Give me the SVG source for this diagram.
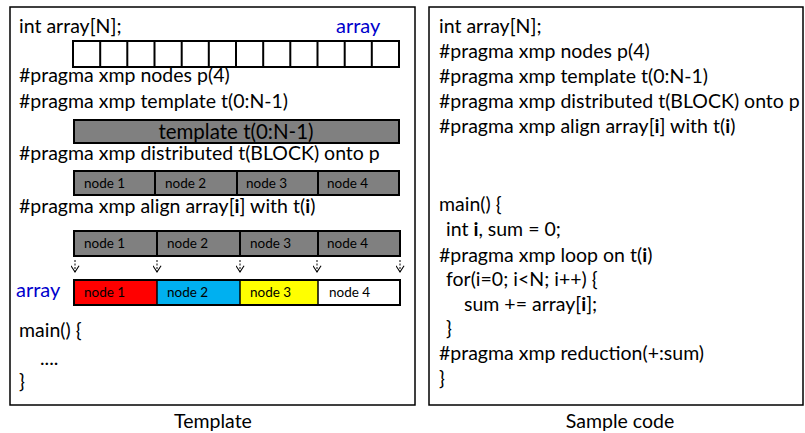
<svg xmlns="http://www.w3.org/2000/svg" width="805" height="433" viewBox="0 0 805 433">
<style>
.t{font-family:Lato,"Open Sans","Liberation Sans",sans-serif;font-size:19.5px;fill:#000}
.b{fill:#0000cc;font-size:20px}
.n{font-family:Lato,"Open Sans","Liberation Sans",sans-serif;font-size:13.5px;fill:#000}
.box{fill:#fff;stroke:#000;stroke-width:1.5}
.cell{fill:#fff;stroke:#000;stroke-width:2}
.gr{fill:#808080;stroke:#000;stroke-width:2}
.con{stroke:#000;stroke-width:1;stroke-dasharray:2,1.5;fill:none}
.bi{font-weight:bold}
</style>
<defs>
<marker id="ah" viewBox="0 0 10 10" refX="9" refY="5" markerWidth="9" markerHeight="9" markerUnits="userSpaceOnUse" orient="auto">
<path d="M2,0.5 L9,5 L2,9.5" fill="none" stroke="#000" stroke-width="1.2"/>
</marker>
</defs>
<g id="template-panel">
<rect class="box" x="10" y="7" width="405" height="398"/>
<text class="t" x="19" y="33">int array[N];</text>
<text class="t b" x="336" y="33">array</text>
<g id="array-cells">
<rect class="cell" x="73" y="41" width="326" height="26"/>
<path d="M100.2,41V67M127.3,41V67M154.5,41V67M181.7,41V67M208.8,41V67M236,41V67M263.2,41V67M290.3,41V67M317.5,41V67M344.7,41V67M371.8,41V67" stroke="#000" stroke-width="2"/>
</g>
<text class="t" x="19" y="82">#pragma xmp nodes p(4)</text>
<text class="t" x="19" y="108">#pragma xmp template t(0:N-1)</text>
<g id="template-bar">
<rect class="gr" x="74" y="120" width="325" height="23"/>
<text class="t" x="236" y="139" text-anchor="middle" style="font-size:20.5px">template t(0:N-1)</text>
</g>
<text class="t" x="19" y="160">#pragma xmp distributed t(BLOCK) onto p</text>
<g id="nodes-dist">
<rect class="gr" x="74" y="171" width="81" height="24"/>
<rect class="gr" x="155" y="171" width="82" height="24"/>
<rect class="gr" x="237" y="171" width="81" height="24"/>
<rect class="gr" x="318" y="171" width="81" height="24"/>
<text class="n" x="84" y="188">node 1</text>
<text class="n" x="165" y="188">node 2</text>
<text class="n" x="246" y="188">node 3</text>
<text class="n" x="327" y="188">node 4</text>
</g>
<text class="t" x="19" y="213">#pragma xmp align array[<tspan class="bi">i</tspan>] with t(<tspan class="bi">i</tspan>)</text>
<g id="nodes-align">
<rect class="gr" x="74" y="231" width="83" height="25"/>
<rect class="gr" x="157" y="231" width="83" height="25"/>
<rect class="gr" x="240" y="231" width="78" height="25"/>
<rect class="gr" x="318" y="231" width="82" height="25"/>
<text class="n" x="84" y="248">node 1</text>
<text class="n" x="167" y="248">node 2</text>
<text class="n" x="250" y="248">node 3</text>
<text class="n" x="327" y="248">node 4</text>
</g>
<text class="t b" x="16" y="297">array</text>
<g id="array-dist">
<rect x="74" y="280" width="83" height="25" fill="#ff0000"/>
<rect x="157" y="280" width="83" height="25" fill="#00b0f0"/>
<rect x="240" y="280" width="78" height="25" fill="#ffff00"/>
<rect x="318" y="280" width="82" height="25" fill="#fff"/>
<rect x="74" y="280" width="326" height="25" fill="none" stroke="#000" stroke-width="2"/>
<path d="M157,280V305M240,280V305M318,280V305" stroke="#000" stroke-width="1.5"/>
<text class="n" x="84" y="297">node 1</text>
<text class="n" x="167" y="297">node 2</text>
<text class="n" x="250" y="297">node 3</text>
<text class="n" x="329" y="297">node 4</text>
</g>
<text class="t" x="19" y="337">main() {</text>
<text class="t" x="40" y="365">....</text>
<text class="t" x="19" y="388">}</text>
</g>
<g id="connectors">
<line class="con" x1="75" y1="260" x2="75" y2="272" marker-end="url(#ah)"/>
<line class="con" x1="157" y1="260" x2="157" y2="272" marker-end="url(#ah)"/>
<line class="con" x1="240" y1="260" x2="240" y2="272" marker-end="url(#ah)"/>
<line class="con" x1="317" y1="260" x2="317" y2="272" marker-end="url(#ah)"/>
<line class="con" x1="400" y1="260" x2="400" y2="272" marker-end="url(#ah)"/>
</g>
<g id="sample-panel">
<rect class="box" x="429" y="7" width="374" height="398"/>
<text class="t" x="439" y="33">int array[N];</text>
<text class="t" x="439" y="58">#pragma xmp nodes p(4)</text>
<text class="t" x="439" y="83">#pragma xmp template t(0:N-1)</text>
<text class="t" x="439" y="108">#pragma xmp distributed t(BLOCK) onto p</text>
<text class="t" x="439" y="133">#pragma xmp align array[<tspan class="bi">i</tspan>] with t(<tspan class="bi">i</tspan>)</text>
<text class="t" x="439" y="211">main() {</text>
<text class="t" x="446" y="236">int <tspan class="bi">i</tspan>, sum = 0;</text>
<text class="t" x="439" y="262">#pragma xmp loop on t(<tspan class="bi">i</tspan>)</text>
<text class="t" x="446" y="286">for(i=0; i&lt;N; i++) {</text>
<text class="t" x="464" y="311">sum += array[<tspan class="bi">i</tspan>];</text>
<text class="t" x="446" y="335">}</text>
<text class="t" x="439" y="360">#pragma xmp reduction(+:sum)</text>
<text class="t" x="439" y="385">}</text>
</g>
<text class="t" x="213" y="428" text-anchor="middle">Template</text>
<text class="t" x="620" y="428" text-anchor="middle">Sample code</text>
</svg>
